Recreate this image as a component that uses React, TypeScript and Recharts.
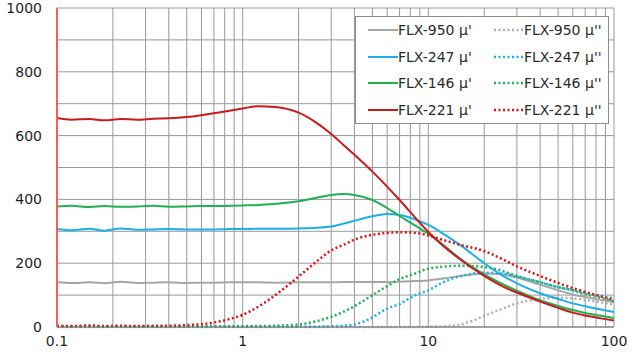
import React from "react";
import {
  LineChart,
  Line,
  XAxis,
  YAxis,
  CartesianGrid,
  Legend,
} from "recharts";

// frequency (MHz), log axis
const freq = [
  0.1, 0.12, 0.15, 0.18, 0.22, 0.27, 0.33, 0.4, 0.5, 0.6, 0.7, 0.85, 1, 1.2,
  1.5, 2, 2.5, 3, 3.5, 4, 5, 6, 7, 8.5, 10, 12, 15, 20, 25, 30, 40, 50, 60, 70,
  85, 100,
];

// μ' (solid)
const flx950Re = [
  141, 138, 140, 137, 142, 138, 139, 140, 138, 139, 139, 140, 140, 140, 139,
  140, 140, 140, 141, 141, 141, 141, 142, 144, 146, 152, 160, 168, 165, 155,
  132, 115, 102, 94, 85, 78,
];
const flx247Re = [
  307, 303, 308, 302, 309, 305, 306, 307, 306, 306, 306, 307, 307, 308, 308,
  309, 311, 315, 324, 333, 347, 354, 351, 337, 320, 293, 255, 200, 162, 137,
  106, 88, 74, 65, 55, 47,
];
const flx146Re = [
  378, 380, 376, 379, 377, 378, 380, 377, 378, 379, 379, 380, 381, 382, 386,
  394, 405, 414, 417, 414, 398, 373, 348, 318, 292, 258, 212, 165, 135, 114,
  84, 66, 53, 44, 35, 28,
];
const flx221Re = [
  655, 650, 652, 648, 652, 650, 653, 654, 658, 664, 670, 678, 685, 692, 690,
  672, 640, 605, 570, 540, 487, 440, 398, 343, 298, 255, 210, 160, 128, 108,
  80, 60, 45, 36, 27, 20,
];

// μ'' (dotted)
const flx950Im = [
  0, 0, 0, 0, 0, 0, 0, 0, 0, 0, 0, 0, 0, 0, 0, 0, 0, 0, 0, 0, 0, 0, 0, 0, 1,
  2, 8, 35, 57, 74, 88, 92, 90, 85, 77, 70,
];
const flx247Im = [
  1, 1, 1, 1, 1, 1, 1, 1, 1, 1, 1, 1, 1, 1, 1, 1, 1, 2, 4, 8, 30, 58, 72, 100,
  115, 140, 160, 170, 168, 158, 140, 125, 115, 107, 97, 90,
];
const flx146Im = [
  2, 2, 2, 2, 2, 2, 2, 2, 2, 2, 2, 2, 2, 3, 4, 8, 18, 32, 48, 65, 100, 128,
  150, 168, 183, 189, 192, 188, 176, 160, 140, 125, 115, 103, 92, 80,
];
const flx221Im = [
  4, 3, 5, 3, 4, 3, 4, 4, 6, 9, 14, 25, 38, 62, 100, 158, 205, 240, 258, 274,
  289, 295, 297, 295, 287, 273, 257, 238, 213, 190, 160, 138, 122, 110, 96,
  84,
];

const xTicks = [
  0.1, 0.2, 0.3, 0.4, 0.5, 0.6, 0.7, 0.8, 0.9, 1, 2, 3, 4, 5, 6, 7, 8, 9, 10,
  20, 30, 40, 50, 60, 70, 80, 90, 100,
];
const xLabels = [0.1, 1, 10, 100];
const yTicks = [0, 100, 200, 300, 400, 500, 600, 700, 800, 900, 1000];

const data = freq.map((f, i) => ({
  f,
  s950re: flx950Re[i],
  s247re: flx247Re[i],
  s146re: flx146Re[i],
  s221re: flx221Re[i],
  s950im: flx950Im[i],
  s247im: flx247Im[i],
  s146im: flx146Im[i],
  s221im: flx221Im[i],
}));

const series = [
  { key: "s950re", name: "FLX-950 μ'", color: "#a6a6a6", dotted: false },
  { key: "s950im", name: "FLX-950 μ''", color: "#b0b0b0", dotted: true },
  { key: "s247re", name: "FLX-247 μ'", color: "#1ab0f0", dotted: false },
  { key: "s247im", name: "FLX-247 μ''", color: "#1ab0f0", dotted: true },
  { key: "s146re", name: "FLX-146 μ'", color: "#1fb153", dotted: false },
  { key: "s146im", name: "FLX-146 μ''", color: "#1fb153", dotted: true },
  { key: "s221re", name: "FLX-221 μ'", color: "#cc1a1a", dotted: false },
  { key: "s221im", name: "FLX-221 μ''", color: "#e01010", dotted: true },
];

const font = "'DejaVu Sans', Verdana, sans-serif";

const LegendBox = () => (
  <div
    style={{
      width: 252,
      height: 106,
      border: "1px solid #8c8c8c",
      background: "#fff",
      display: "grid",
      gridTemplateColumns: "126px 126px",
      gridAutoRows: "26.6px",
      fontFamily: font,
      fontSize: 14,
      color: "#2a2a2a",
      boxSizing: "content-box",
    }}
  >
    {series.map((s) => (
      <div
        key={s.key}
        style={{ display: "flex", alignItems: "center", paddingLeft: 12 }}
      >
        <svg width={30} height={4} style={{ display: "block" }}>
          <line
            x1={0}
            y1={2}
            x2={30}
            y2={2}
            stroke={s.color}
            strokeWidth={s.dotted ? 2.5 : 2}
            strokeDasharray={s.dotted ? "2 2.5" : undefined}
          />
        </svg>
        <span style={{ whiteSpace: "nowrap" }}>{s.name}</span>
      </div>
    ))}
  </div>
);

const tickStyle = {
  fill: "#1e1e1e",
  fontSize: 14,
  fontFamily: font,
};

export default function App() {
  return (
    <div style={{ position: "absolute", left: 0, top: 0, background: "#fff" }}>
      <LineChart
        width={634}
        height={356}
        data={data}
        margin={{ top: 8, right: 20, bottom: 0, left: 0 }}
      >
        <CartesianGrid stroke="#999" strokeWidth={1} />
        <XAxis
          dataKey="f"
          type="number"
          scale="log"
          domain={[0.1, 100]}
          allowDataOverflow
          ticks={xTicks}
          interval={0}
          height={29}
          tickLine={false}
          tickSize={0}
          tickMargin={9}
          axisLine={{ stroke: "#777" }}
          tickFormatter={(v: number) => (xLabels.includes(v) ? String(v) : "")}
          tick={tickStyle}
        />
        <YAxis
          type="number"
          domain={[0, 1000]}
          ticks={yTicks}
          interval={0}
          width={57}
          tickLine={false}
          tickSize={0}
          tickMargin={15}
          axisLine={{ stroke: "#ff5a5a", strokeWidth: 2 }}
          tickFormatter={(v: number) => (v % 200 === 0 ? String(v) : "")}
          tick={tickStyle}
        />
        <Legend
          layout="horizontal"
          align="center"
          verticalAlign="middle"
          wrapperStyle={{ left: 355, top: 16, width: 254 }}
          content={() => <LegendBox />}
        />
        {series.map((s) => (
          <Line
            key={s.key}
            dataKey={s.key}
            name={s.name}
            type="monotone"
            stroke={s.color}
            strokeWidth={s.dotted ? 2.5 : 2}
            strokeDasharray={s.dotted ? "2 2.5" : undefined}
            dot={false}
            activeDot={false}
            isAnimationActive={false}
          />
        ))}
      </LineChart>
    </div>
  );
}
